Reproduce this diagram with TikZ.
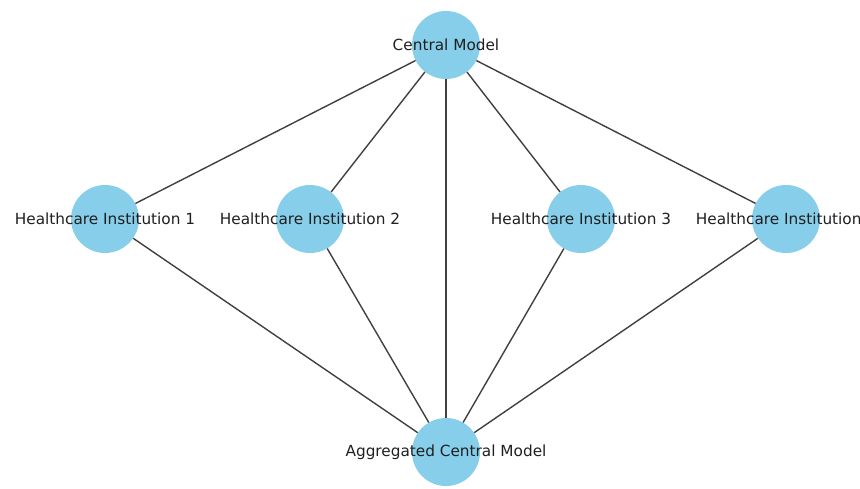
\documentclass[tikz,border=0pt]{standalone}
\usepackage{fontspec}
\setmainfont{DejaVu Sans}

\begin{document}
\begin{tikzpicture}[x=1pt,y=-1pt,
	vertex/.style={circle,fill=skyblue,draw=none,minimum size=68pt,inner sep=0pt},
	edge/.style={draw=black!75,line width=1.4pt},
	tag/.style={text=black!88,font=\fontsize{15.3}{18}\selectfont}]
	\definecolor{skyblue}{HTML}{87CEEB}
	\useasboundingbox (0,0) rectangle (860,488);
	\node[vertex] (cm) at (446,45) {};
	\node[vertex] (hi1) at (105,219) {};
	\node[vertex] (hi2) at (310,219) {};
	\node[vertex] (hi3) at (581,219) {};
	\node[vertex] (hi4) at (786,219) {};
	\node[vertex] (acm) at (446,452) {};
	\foreach \n in {hi1,hi2,hi3,hi4,acm}
		\draw[edge] (cm) -- (\n);
	\foreach \n in {hi1,hi2,hi3,hi4}
		\draw[edge] (\n) -- (acm);
	\node[tag] at (cm.center) {Central Model};
	\node[tag] at (hi1.center) {Healthcare Institution 1};
	\node[tag] at (hi2.center) {Healthcare Institution 2};
	\node[tag] at (hi3.center) {Healthcare Institution 3};
	\node[tag] at (hi4.center) {Healthcare Institution 4};
	\node[tag] at (acm.center) {Aggregated Central Model};
\end{tikzpicture}
\end{document}
